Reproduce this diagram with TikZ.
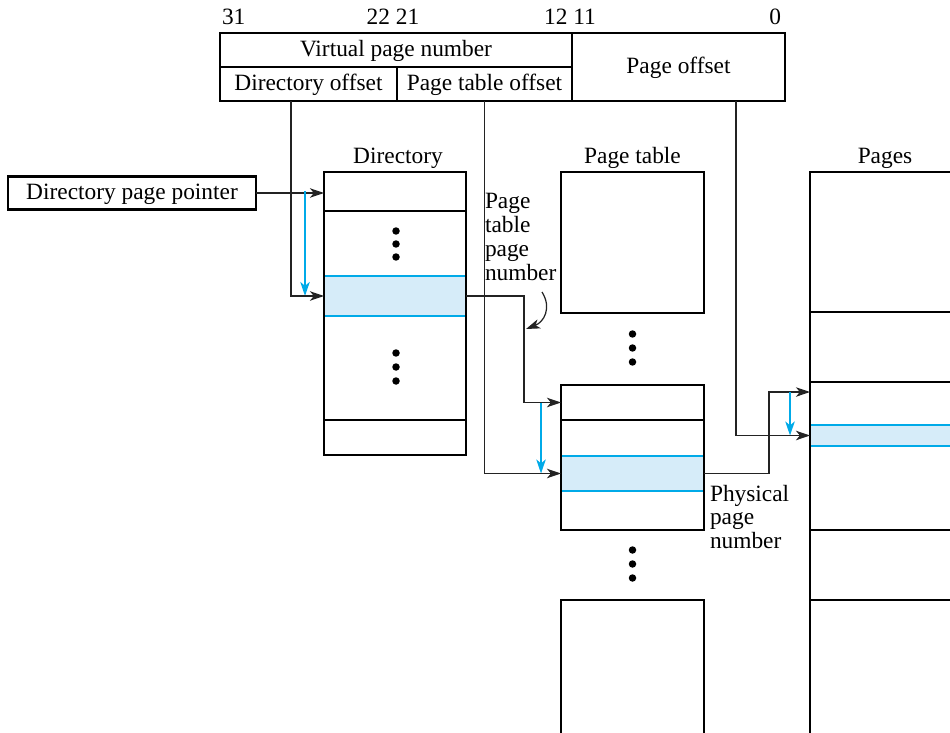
\documentclass[tikz,border=0pt]{standalone}
\usepackage{fontspec}
\setmainfont{Liberation Serif}
\usetikzlibrary{arrows.meta,calc}
\definecolor{selblue}{RGB}{0,170,232}
\definecolor{selfill}{RGB}{214,236,249}
\definecolor{linegray}{RGB}{35,35,35}
\begin{document}
\begin{tikzpicture}[x=0.02cm, y=-0.02cm, >={Stealth[length=8pt,width=5.4pt,inset=2.2pt]},
  every node/.style={font=\fontsize{13.3}{13.6}\selectfont, inner sep=0pt, outer sep=0pt,
    text height=0.95em, text depth=0.25em},
  field/.style={draw, line width=1pt, minimum height=0.68cm},
  cell/.style={draw, line width=1pt, minimum width=2.84cm},
  selcell/.style={fill=selfill, minimum width=2.84cm},
  frame/.style={draw, line width=1.6pt},
  lines/.style={align=left, anchor=west, text height={}, text depth={}},
  link/.style={->, line width=0.7pt, draw=linegray},
  bluelink/.style={->, line width=0.9pt, selblue},
  bandline/.style={selblue, line width=1.3pt}]
\useasboundingbox (0,0) rectangle (950,733);
% virtual address
\node[field, minimum width=7.04cm] (vpn) at (396,50) {Virtual page number};
\node[field, minimum width=3.54cm] (doff) at (308.5,84) {Directory offset};
\node[field, minimum width=3.5cm] (ptoff) at (484.5,84) {Page table offset};
\node[field, minimum width=4.26cm, minimum height=1.36cm] (poff) at (678.5,67) {Page offset};
\draw[frame] (vpn.north west) rectangle (poff.south east);
\node[anchor=west] (b31) at (222,18) {31};
\node (b22) at (393,18) {22 21};
\node (b12) at (570,18) {12 11};
\node[anchor=east] (b0) at (781,18) {0};
\node[draw, line width=1.4pt, minimum width=4.96cm, minimum height=0.66cm] (dpp) at (132,193) {Directory page pointer};
% directory
\node (dtitle) at (398,157) {Directory};
\node[cell, minimum height=0.78cm] (dtop) at (395,191.5) {};
\node[cell, minimum height=1.3cm] (dgap1) at (395,243.5) {};
\node[selcell, minimum height=0.8cm] (dsel) at (395,296) {};
\node[cell, minimum height=2.08cm] (dgap2) at (395,368) {};
\node[cell, minimum height=0.7cm] (dbot) at (395,437.5) {};
\draw[bandline] (dsel.north west) -- (dsel.north east);
\draw[bandline] (dsel.south west) -- (dsel.south east);
\draw[frame] (dtop.north west) rectangle (dbot.south east);
% page table
\node (ptitle) at (632.5,157) {Page table};
\node[frame, minimum width=2.86cm, minimum height=2.82cm] (ptop) at (632.5,242.5) {};
\node[cell, minimum width=2.86cm, minimum height=0.72cm] (pgap1) at (632.5,438) {};
\node[selcell, minimum width=2.86cm, minimum height=0.7cm] (psel) at (632.5,473.5) {};
\node[cell, minimum width=2.86cm, minimum height=0.78cm] (pgap2) at (632.5,510.5) {};
\node[frame, minimum width=2.86cm, minimum height=0.7cm] (prow) at (632.5,402.5) {};
\draw[bandline] (psel.north west) -- (psel.north east);
\draw[bandline] (psel.south west) -- (psel.south east);
\draw[frame] (prow.north west) rectangle (pgap2.south east);
\node[frame, minimum width=2.86cm, minimum height=2.8cm] (pbot) at (632.5,670) {};
% pages
\node (gtitle) at (885,157) {Pages};
\node[cell, minimum width=3cm, minimum height=2.8cm] (g1) at (885,242) {};
\node[cell, minimum width=3cm, minimum height=1.4cm] (g2) at (885,347) {};
\node[cell, minimum width=3cm, minimum height=2.96cm] (g3) at (885,456) {};
\node[selcell, minimum width=3cm, minimum height=0.42cm] (gsel) at (885,435.5) {};
\node[cell, minimum width=3cm, minimum height=1.4cm] (g4) at (885,565) {};
\node[cell, minimum width=3cm, minimum height=2.8cm] (g5) at (885,670) {};
\draw[bandline] (gsel.north west) -- (gsel.north east);
\draw[bandline] (gsel.south west) -- (gsel.south east);
\draw[frame] (g1.north east) -- (g1.north west) -- (g3.south west) -- (g3.south east);
% dots
\foreach \y in {231,244,257,353,367,381} \fill (396,\y) circle[radius=0.075cm];
\foreach \y in {334,348,362,550,564,578} \fill (632.5,\y) circle[radius=0.075cm];
% connectors
\draw[link] (dpp.east) -- (dpp.east -| dtop.west);
\draw[bluelink] ($(dtop.west)+(-19,0)$) -- ($(dsel.west)+(-19,0)$);
\draw[link] ($(doff.south)+(-17.5,0)$) |- (dsel.west);
\draw[link] (dsel.east) -- ++(58,0) |- (prow.west);
\draw[bluelink] ($(prow.west)+(-20,0)$) -- ($(psel.west)+(-20,0)$);
\draw[link] (ptoff.south) |- (psel.west);
\coordinate (gin) at ($(g3.north west)+(0,10)$);
\draw[link] (psel.east) -- ++(65,0) |- (gin);
\draw[bluelink] ($(gin)+(-20,0)$) -- ($(gsel.west)+(-20,0)$);
\draw[link] ($(poff.south)+(57.5,0)$) |- (gsel.west);
% labels
\node[lines] (ptpn) at (485,237) {Page\\table\\page\\number};
\node[lines] (ppn) at (710,517) {Physical\\page\\number};
\coordinate (pcurve) at (542,292);
\coordinate (pline) at (526,329);
\draw[link] (pcurve) .. controls (552,308) and (544,322) .. (pline);
\end{tikzpicture}
\end{document}
